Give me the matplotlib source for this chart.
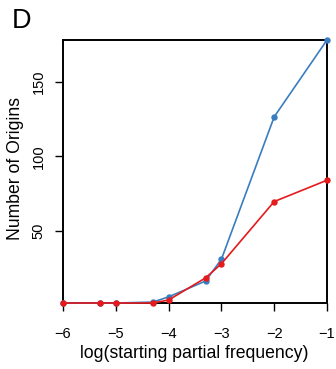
import matplotlib
matplotlib.use("Agg")
import matplotlib.pyplot as plt

plt.rcParams['font.family'] = ['Liberation Sans', 'DejaVu Sans']

log_freq = [-6, -5.301, -5, -4.301, -4, -3.301, -3, -2, -1]
blue_origins = [1.7, 1.7, 1.7, 2.3, 5.8, 16.4, 31, 126.5, 178]
red_origins = [1.7, 1.7, 1.7, 1.7, 3.7, 18.5, 28, 69.7, 84]
x_ticks = [-6, -5, -4, -3, -2, -1]
y_ticks = [50, 100, 150]

W, H = 336, 369
fig = plt.figure(figsize=(W/100, H/100), dpi=100)
ax = fig.add_axes([63/W, 1-303/H, (327-63)/W, (303-40)/H])

ax.plot(log_freq, blue_origins, color='#3A7DBF', lw=1.2, marker='o', ms=3.6, clip_on=False, zorder=3)
ax.plot(log_freq, red_origins, color='#E41A1C', lw=1.2, marker='o', ms=3.6, clip_on=False, zorder=4)

ax.set_xlim(-6, -1)
ax.set_ylim(1.7, 178)
ax.set_xticks(x_ticks)
ax.set_xticklabels([f"\u2212{abs(t)}" for t in x_ticks])
ax.set_yticks(y_ticks)
ax.set_yticklabels([str(t) for t in y_ticks], rotation=90, va='center')
ax.tick_params(axis='both', direction='out', length=5.5, width=1, labelsize=10.5)
ax.tick_params(axis='x', pad=12)
ax.tick_params(axis='y', pad=7)
for s in ax.spines.values():
    s.set_linewidth(1.4)

fig.text(194/W, 1-354/H, "log(starting partial frequency)", fontsize=12.7,
         ha='center', va='center')
fig.text(15.5/W, 1-169/H, "Number of Origins", fontsize=12.7,
         ha='center', va='center', rotation=90)

fig.text(12/W, 1-28/H, "D", fontsize=19.5, ha='left', va='baseline')

fig.savefig("out.png", dpi=100)
